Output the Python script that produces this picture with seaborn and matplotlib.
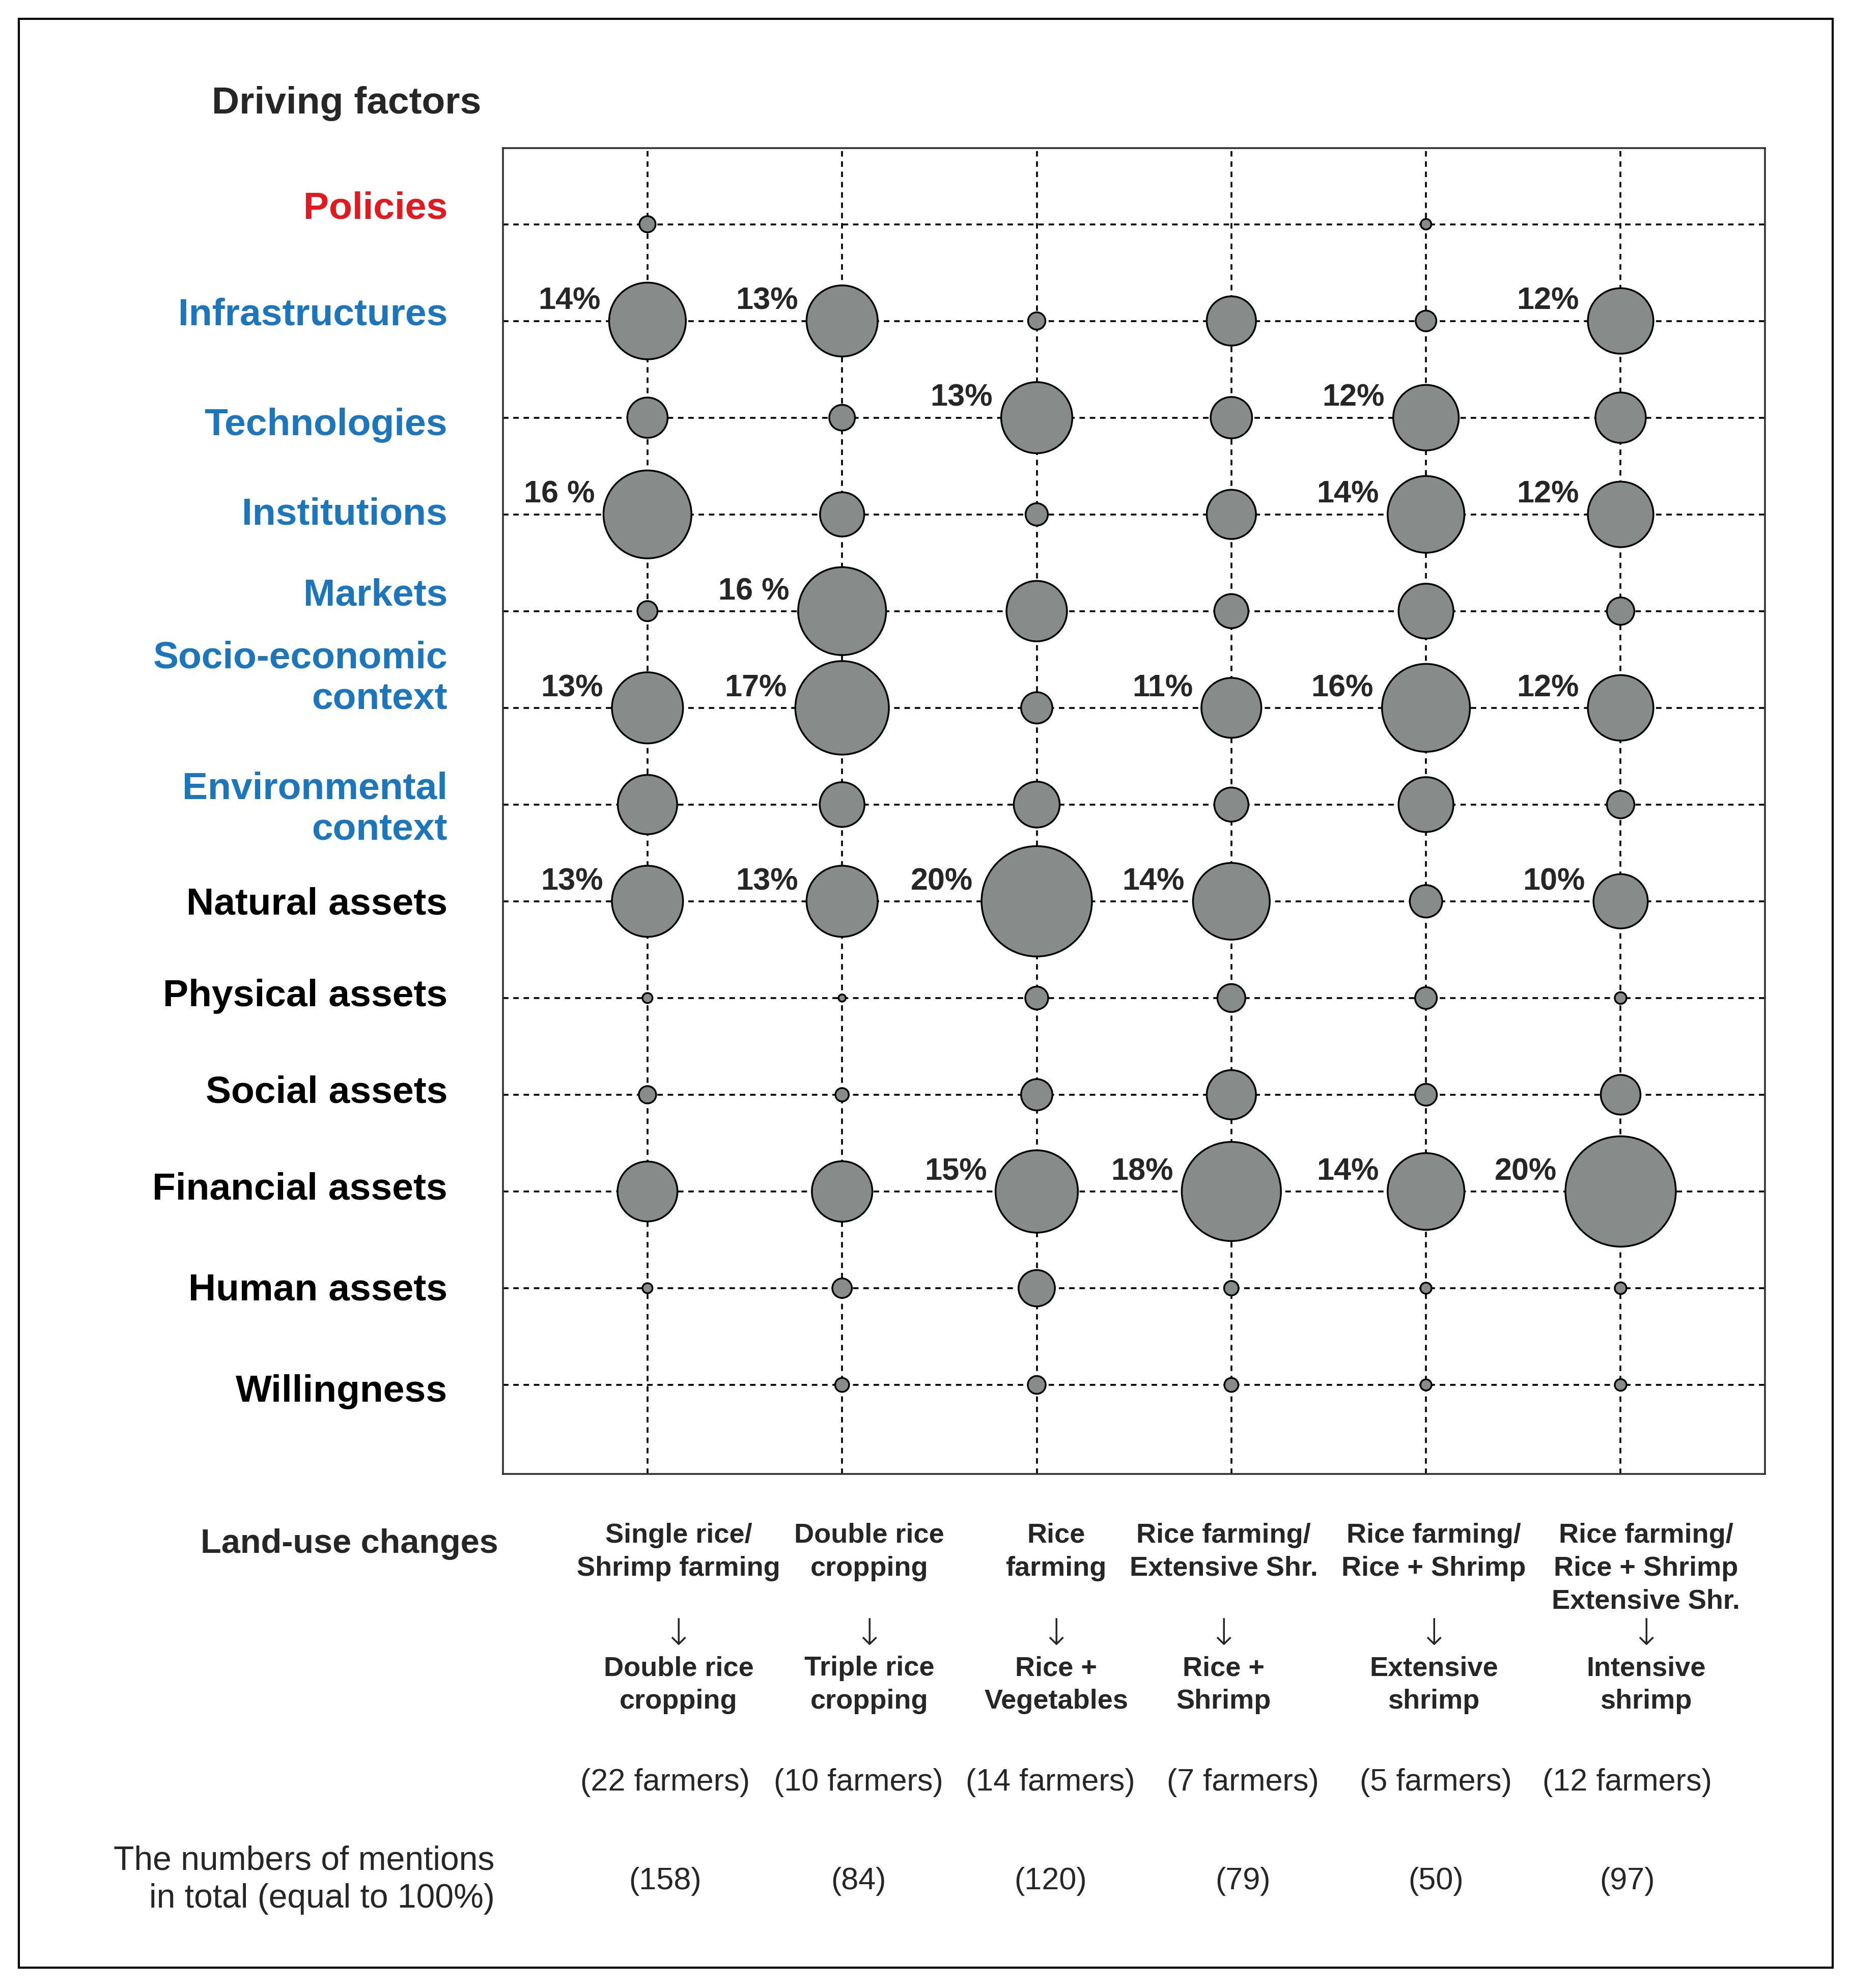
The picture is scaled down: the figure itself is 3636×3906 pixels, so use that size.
import numpy as np
import pandas as pd
import seaborn as sns
import matplotlib.pyplot as plt
from matplotlib.patches import Rectangle
from matplotlib.transforms import blended_transform_factory

# ---- data ----
factors = ['Policies', 'Infrastructures', 'Technologies', 'Institutions', 'Markets',
           'Socio-economic\ncontext', 'Environmental\ncontext', 'Natural assets',
           'Physical assets', 'Social assets', 'Financial assets', 'Human assets',
           'Willingness']

change_from = ['Single rice/\nShrimp farming', 'Double rice\ncropping', 'Rice\nfarming',
               'Rice farming/\nExtensive Shr.', 'Rice farming/\nRice + Shrimp',
               'Rice farming/\nRice + Shrimp\nExtensive Shr.']
change_to = ['Double rice\ncropping', 'Triple rice\ncropping', 'Rice +\nVegetables',
             'Rice +\nShrimp', 'Extensive\nshrimp', 'Intensive\nshrimp']
farmers = [22, 10, 14, 7, 5, 12]
mentions = [158, 84, 120, 79, 50, 97]

# share of mentions (%) per factor, one list per land-use change
pct_single_rice = [3.2, 14, 7.5, 16, 3.9, 13, 10.9, 13, 2.1, 3.4, 11.0, 2.1, 0]
pct_double_rice = [0, 13, 4.9, 8.2, 16, 17, 8.3, 13, 1.6, 2.7, 11.1, 3.8, 2.8]
pct_rice_farming = [0, 3.4, 13, 4.3, 11.1, 5.9, 8.5, 20, 4.4, 5.9, 15, 6.8, 3.5]
pct_rice_ext = [0, 9.1, 7.7, 9.1, 6.4, 11, 6.4, 14, 5.3, 9.1, 18, 2.9, 2.8]
pct_rice_shrimp = [2.2, 4.0, 12, 14, 10.1, 16, 10.1, 6.1, 4.2, 4.2, 14, 2.3, 2.3]
pct_intensive = [0, 12, 9.3, 12, 5.2, 12, 5.2, 10, 2.4, 7.4, 20, 2.4, 2.4]

# percentage labels written next to the big bubbles
lab_single_rice = [None, '14%', None, '16 %', None, '13%', None, '13%', None, None, None, None, None]
lab_double_rice = [None, '13%', None, None, '16 %', '17%', None, '13%', None, None, None, None, None]
lab_rice_farming = [None, None, '13%', None, None, None, None, '20%', None, None, '15%', None, None]
lab_rice_ext = [None, None, None, None, None, '11%', None, '14%', None, None, '18%', None, None]
lab_rice_shrimp = [None, None, '12%', '14%', None, '16%', None, None, None, None, '14%', None, None]
lab_intensive = [None, '12%', None, '12%', None, '12%', None, '10%', None, None, '20%', None, None]

shares = [pct_single_rice, pct_double_rice, pct_rice_farming, pct_rice_ext, pct_rice_shrimp, pct_intensive]
labels = [lab_single_rice, lab_double_rice, lab_rice_farming, lab_rice_ext, lab_rice_shrimp, lab_intensive]

records = []
for j, col in enumerate(shares):
    for i, p in enumerate(col):
        records.append({'col': j, 'row': i, 'pct': p, 'label': labels[j][i]})
df = pd.DataFrame(records)

# ---- style ----
RED = '#e3191f'
BLUE = '#1b76bd'
FILL = '#878c8a'
EDGE = 2.5
factor_colors = [RED] + [BLUE] * 6 + ['black'] * 6
label_nudge = [-0.16, -0.06, 0.08, 0, -0.16, -0.3, 0.05, 0.03, -0.02, -0.02, -0.02, 0.02, 0.07]
lab_dx = [0.16, 0.14, 0.10, -0.04, 0.04, 0.13]
num_dx = [0.09, 0.085, 0.07, 0.06, 0.05, 0.035]

sns.set_style('white')
plt.rcParams['font.family'] = ['Liberation Sans', 'DejaVu Sans']

fig = plt.figure(figsize=(36.37, 39.06), dpi=100)
ax = fig.add_axes([0.2717, 0.2586, 0.6816, 0.6669])

# dotted grid through every factor / change
for j in range(len(shares)):
    ax.axvline(j, color='black', lw=2.6, ls=(0, (3, 2.6)), zorder=1)
for i in range(len(factors)):
    ax.axhline(i, color='black', lw=2.6, ls=(0, (3, 2.6)), zorder=1)

# bubbles: diameter proportional to the share
pts = df[df['pct'] > 0].copy()
pts['area'] = (7.93 * pts['pct'] - EDGE) ** 2
a_lo, a_hi = pts['area'].min(), pts['area'].max()
sns.scatterplot(data=pts, x='col', y='row', size='area', sizes=(a_lo, a_hi),
                size_norm=(a_lo, a_hi), color=FILL, edgecolor='black',
                linewidth=EDGE, alpha=1, legend=False, ax=ax, zorder=3)

# percentage labels
for _, r in df.dropna(subset=['label']).iterrows():
    rad = 7.93 * r['pct'] / 2
    ax.annotate(r['label'], (r['col'], r['row']), xytext=(-(rad + 11), 7),
                textcoords='offset points', ha='right', va='bottom',
                fontsize=44, fontweight='bold', zorder=4)

ax.set_xlim(-0.742, 5.742)
ax.set_ylim(12.92, -0.787)
ax.set_xticks([])
ax.set_yticks([])
ax.set_xlabel('')
ax.set_ylabel('')
for s in ax.spines.values():
    s.set_visible(True)
    s.set_color('#333333')
    s.set_linewidth(2.6)

# factor names on the left
tr_y = blended_transform_factory(fig.transFigure, ax.transData)
for i, name in enumerate(factors):
    ax.text(0.2417, i + label_nudge[i], name, transform=tr_y, ha='right', va='center',
            fontsize=54, fontweight='bold', color=factor_colors[i], linespacing=1.22)

fig.text(0.1144, 0.948, 'Driving factors', ha='left', va='center', fontsize=54, fontweight='bold')

# land-use changes below the panel
tr_x = blended_transform_factory(ax.transData, fig.transFigure)
for j in range(len(shares)):
    ax.text(j + lab_dx[j], 0.2340, change_from[j], transform=tr_x, ha='center', va='top',
            fontsize=39, fontweight='bold', linespacing=1.38)
    ax.text(j + lab_dx[j], 0.1775, '\u2193', transform=tr_x, ha='center', va='center',
            fontsize=52, family='DejaVu Sans', fontweight='light')
    ax.text(j + lab_dx[j], 0.1524, change_to[j], transform=tr_x, ha='center', va='center',
            fontsize=39, fontweight='bold', linespacing=1.38)
    ax.text(j + num_dx[j], 0.1034, f'({farmers[j]} farmers)', transform=tr_x,
            ha='center', va='center', fontsize=44)
    ax.text(j + num_dx[j], 0.0536, f'({mentions[j]})', transform=tr_x,
            ha='center', va='center', fontsize=44)

fig.text(0.2692, 0.2233, 'Land-use changes', ha='right', va='center', fontsize=48, fontweight='bold')
fig.text(0.2671, 0.0543, 'The numbers of mentions\nin total (equal to 100%)', ha='right',
         va='center', fontsize=47.5, linespacing=1.25)

# outer frame
fig.patches.append(Rectangle((0.0102, 0.0102), 0.9796, 0.9803, transform=fig.transFigure,
                             fill=False, lw=3, ec='black'))

fig.savefig('out.png', dpi=100)
